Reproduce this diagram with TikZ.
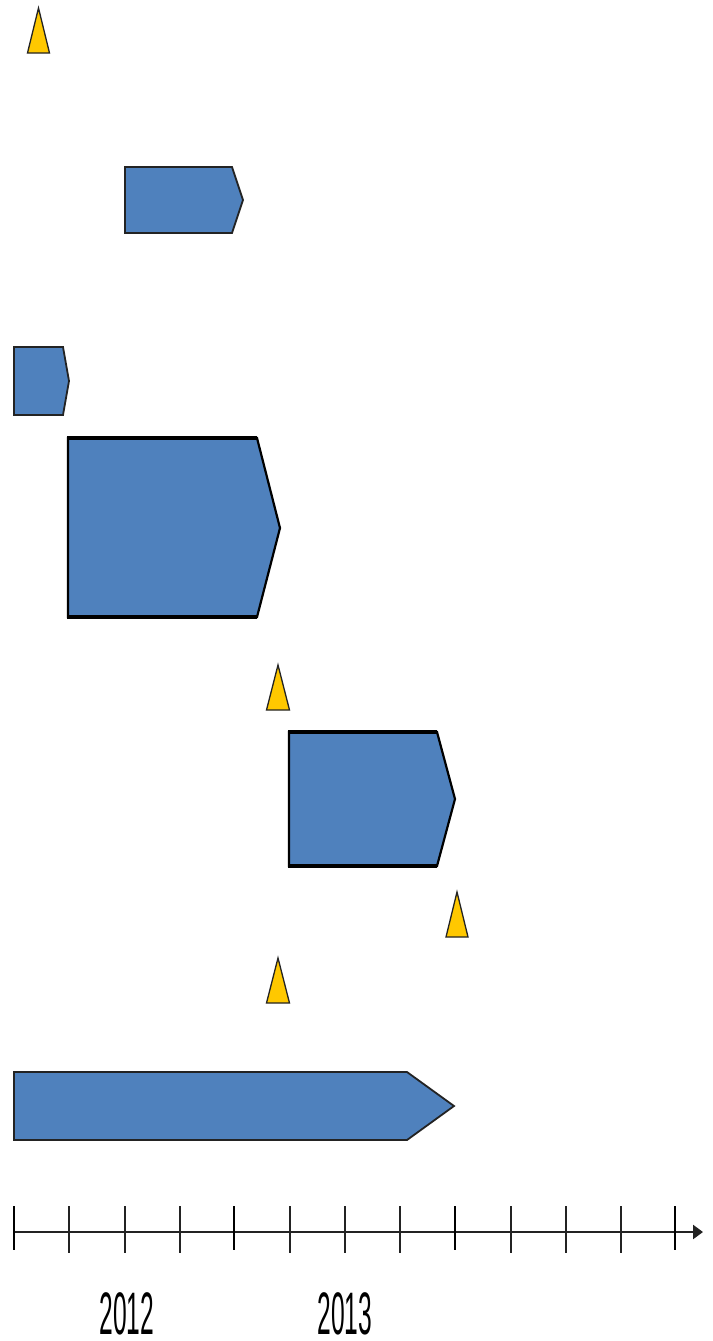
\documentclass[tikz,border=0pt]{standalone}
\usepackage{fontspec}
\setmainfont{Liberation Sans}
\usetikzlibrary{arrows.meta}
\definecolor{barblue}{RGB}{79,129,189}
\definecolor{msgold}{RGB}{255,200,0}
\definecolor{edge}{RGB}{35,35,35}
\tikzset{
  thinbar/.style={fill=barblue, draw=edge, line width=1.8pt, line join=miter},
  thickbar/.style={fill=barblue, draw=black, line width=2.2pt, line join=miter},
  thickedge/.style={draw=black, line width=3.6pt},
  milestone/.style={fill=msgold, draw=edge, line width=1.3pt, line join=miter},
  majortick/.style={draw=black, line width=1.8pt},
  minortick/.style={draw=edge, line width=1.1pt},
  yearlabel/.style={font=\fontsize{60}{60}\selectfont, xscale=0.41, anchor=north, inner sep=0pt}
}
\begin{document}
\begin{tikzpicture}[x=1pt,y=-1pt]
\useasboundingbox (0,0) rectangle (712,1341);
% milestones
\draw[milestone] (38.5,8) -- (49.5,53) -- (27.5,53) -- cycle;
\draw[milestone] (278,665) -- (289.5,710) -- (266.5,710) -- cycle;
\draw[milestone] (457,892) -- (468,937) -- (446,937) -- cycle;
\draw[milestone] (278,958) -- (289.5,1003) -- (266.5,1003) -- cycle;
% bars
\draw[thinbar] (125,167) -- (232,167) -- (243,200) -- (232,233) -- (125,233) -- cycle;
\draw[thinbar] (14,347) -- (63,347) -- (69,381) -- (63,415) -- (14,415) -- cycle;
\draw[thickbar] (68,438) -- (257,438) -- (280,528) -- (257,617) -- (68,617) -- cycle;
\draw[thickedge] (67,438) -- (257,438) (67,617) -- (257,617);
\draw[thickbar] (289,732) -- (437,732) -- (455,799) -- (437,866) -- (289,866) -- cycle;
\draw[thickedge] (288,732) -- (437,732) (288,866) -- (437,866);
\draw[thinbar] (14,1072) -- (407,1072) -- (454,1106) -- (407,1140) -- (14,1140) -- cycle;
% axis
\coordinate (axs) at (14,1232);
\coordinate (axe) at (703,1232);
\draw[draw=edge, line width=2.4pt, -{Triangle[length=10pt,width=14pt]}] (axs) -- (axe);
\foreach \x in {14,234,455,675} \draw[majortick] (\x,1206) -- (\x,1250);
\foreach \x in {69,125,180,290,345,400,511,566,621} \draw[minortick] (\x,1206) -- (\x,1253);
\node[yearlabel] (y2012) at (127,1292) {2012};
\node[yearlabel] (y2013) at (345,1292) {2013};
\end{tikzpicture}
\end{document}
